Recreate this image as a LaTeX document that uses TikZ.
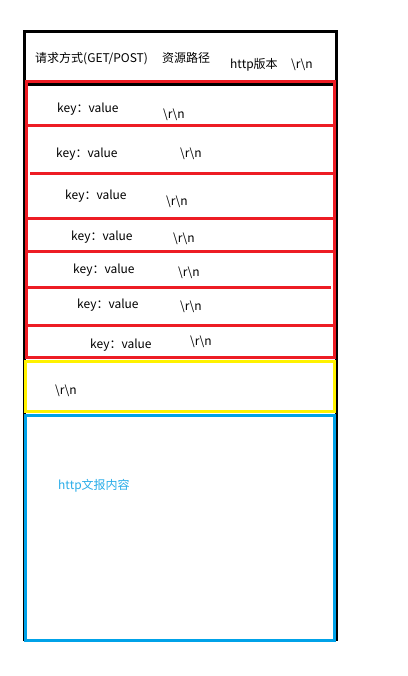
\documentclass[tikz,border=0pt]{standalone}
\usepackage{fontspec}
\setmainfont{Noto Sans CJK SC}
\definecolor{pred}{RGB}{237,28,36}
\definecolor{pyellow}{RGB}{255,242,0}
\definecolor{pblue}{RGB}{0,162,232}
\definecolor{ptext}{RGB}{40,172,232}
\newcommand{\crlf}{\textbackslash r\textbackslash n}

\begin{document}
\begin{tikzpicture}[x=1pt,y=-1pt,
  txt/.style={anchor=west,inner sep=0pt,text height=9pt,text depth=3pt,
    yshift=-2.5pt,font=\fontsize{12}{14}\selectfont},
  frame/.style={line width=3pt}]
  \useasboundingbox (0,0) rectangle (407,676);
  % outer frame and header
  \draw[frame,black] (24,641) -- (24,32) -- (336,32) -- (336,641);
  \draw[frame,black] (24,85) -- (336,85);
  % header lines
  \draw[frame,pred] (26,82) rectangle (334,357);
  \draw[frame,pred] (26,126) -- (336,126);
  \draw[frame,pred] (30,174) -- (334,174);
  \draw[frame,pred] (26,218) -- (334,218);
  \draw[frame,pred] (26,251) -- (334,251);
  \draw[frame,pred] (26,287) -- (331,287);
  \draw[frame,pred] (26,325) -- (334,325);
  % empty line
  \draw[frame,pyellow] (25,361) rectangle (334,411);
  % body
  \draw[frame,pblue] (25,415) rectangle (334,640);

  \node[txt] (method) at (35,57) {请求方式(GET/POST)};
  \node[txt] (path) at (162,57) {资源路径};
  \node[txt] (version) at (230,63) {http版本};
  \node[txt] (crlf0) at (291,63) {\crlf};

  \node[txt] (key1) at (57,107) {key：value};
  \node[txt] (crlf1) at (163,113) {\crlf};
  \node[txt] (key2) at (56,152) {key：value};
  \node[txt] (crlf2) at (180,152) {\crlf};
  \node[txt] (key3) at (65,194) {key：value};
  \node[txt] (crlf3) at (166,200) {\crlf};
  \node[txt] (key4) at (71,235) {key：value};
  \node[txt] (crlf4) at (173,237) {\crlf};
  \node[txt] (key5) at (73,268) {key：value};
  \node[txt] (crlf5) at (178,271) {\crlf};
  \node[txt] (key6) at (77,303) {key：value};
  \node[txt] (crlf6) at (180,305) {\crlf};
  \node[txt] (key7) at (90,343) {key：value};
  \node[txt] (crlf7) at (190,340) {\crlf};

  \node[txt] (blank) at (55,389) {\crlf};
  \node[txt,text=ptext] (content) at (58,484) {http文报内容};
\end{tikzpicture}
\end{document}
